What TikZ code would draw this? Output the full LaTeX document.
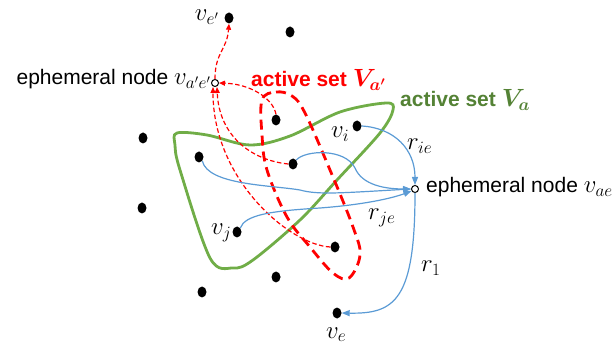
\documentclass[tikz,border=0pt]{standalone}
\usepackage{amsmath}
\usepackage{fontspec}
\setmainfont{Liberation Sans}
\usetikzlibrary{shapes.geometric,arrows.meta}
\definecolor{myred}{RGB}{255,0,0}
\definecolor{mygreen}{RGB}{112,173,71}
\definecolor{mygreentext}{RGB}{84,130,53}
\definecolor{myblue}{RGB}{91,155,213}
\newcommand{\bigmath}[1]{{\fontsize{26}{30}\selectfont$#1$}}
\begin{document}
\begin{tikzpicture}[x=1pt,y=-1pt,font=\fontsize{21}{25}\selectfont,
  dot/.style={ellipse, fill=black, minimum width=9pt, minimum height=11pt, inner sep=0pt},
  eph/.style={circle, draw=black, line width=1pt, minimum size=7pt, inner sep=0pt, fill=white},
  lbl/.style={inner sep=0pt},
  mathlbl/.style={inner sep=0pt, font=\fontsize{26}{30}\selectfont},
  bluearrow/.style={myblue, line width=1.2pt, -{Triangle[length=8pt,width=6pt]}},
  redarrow/.style={myred, line width=1.2pt, dash pattern=on 4.5pt off 2.5pt, -{Triangle[length=6pt,width=5pt]}},
  greenset/.style={mygreen, line width=2.8pt},
  redset/.style={myred, line width=2.8pt, dash pattern=on 10pt off 6pt}]
\useasboundingbox (0,0) rectangle (615,352);
% active set V_a (green)
\draw[greenset] plot[smooth cycle, tension=0.55] coordinates {
  (177,133) (207,135) (250,145) (290,136) (340,112) (386,103) (393,110)
  (380,133) (337,180) (300,220) (253,260) (233,268) (210,258) (180,170) (175,145)};
% active set V_a' (red dashed)
\draw[redset] plot[smooth cycle, tension=0.6] coordinates {
  (262,100) (276,92) (292,96) (305,113) (330,170) (353,227) (360,255)
  (349,278) (333,273) (310,247) (287,217) (267,170) (262,135)};
% nodes
\node[dot] (vep) at (229,18) {};
\node[dot] (d1) at (290,32) {};
\node[eph] (vaep) at (215,83) {};
\node[dot] (d2) at (276,120) {};
\node[dot] (d3) at (143,138) {};
\node[dot] (d4) at (199,157) {};
\node[dot] (d5) at (293,164) {};
\node[dot] (vi) at (357,126) {};
\node[eph] (vae) at (415,189) {};
\node[dot] (d6) at (142,208) {};
\node[dot] (vj) at (237,232) {};
\node[dot] (d7) at (335,247) {};
\node[dot] (d8) at (276,277) {};
\node[dot] (d9) at (202,292) {};
\node[dot] (ve) at (337,313) {};
% labels
\node[inner sep=0pt, font=\fontsize{24}{26}\selectfont, anchor=base east] (lvep) at (219,21) {$v_{e'}$};
\node[lbl, anchor=base east] (lvaep) at (211,85) {ephemeral node \bigmath{v_{a'e'}}};
\node[lbl, anchor=base west, text=myred, font=\fontsize{21}{25}\selectfont\bfseries] (lred) at (251,87) {active set \bigmath{\boldsymbol{V_{a'}}}};
\node[lbl, anchor=base west, text=mygreentext, font=\fontsize{21}{25}\selectfont\bfseries] (lgreen) at (400,107) {active set \bigmath{\boldsymbol{V_{a}}}};
\node[mathlbl, anchor=base west] (lvi) at (331,138) {$v_i$};
\node[mathlbl, anchor=base west] (lrie) at (407,150) {$r_{ie}$};
\node[lbl, anchor=base west] (lvae) at (426,193) {ephemeral node \bigmath{v_{ae}}};
\node[mathlbl, anchor=base west] (lrje) at (368,220) {$r_{je}$};
\node[mathlbl, anchor=base west] (lvj) at (211,235) {$v_j$};
\node[mathlbl, anchor=base west] (lr1) at (421,272) {$r_1$};
\node[mathlbl, anchor=base west] (lve) at (326,338) {$v_e$};
% red dashed arrows
\draw[redarrow] (d2.north) .. controls (273,98) and (250,84) .. (vaep.east);
\draw[redarrow] (d5.west) .. controls (250,160) and (219,135) .. ([xshift=2pt]vaep.south);
\draw[redarrow] (d7.west) .. controls (290,245) and (213,180) .. ([xshift=-2pt]vaep.south);
\draw[redarrow] (vaep.north) .. controls (215,52) and (227,50) .. (vep.south);
% blue arrows
\draw[bluearrow] (vi.east) .. controls (395,128) and (415,150) .. (vae.north);
\draw[bluearrow] (d4.south east) .. controls (208,185) and (270,185) .. (300,190) .. controls (318,195) and (340,193) .. (vae.west);
\draw[bluearrow] (d5.north east) .. controls (305,150) and (345,148) .. (355,168) .. controls (362,185) and (385,189) .. (vae.west);
\draw[bluearrow] (vj.north east) .. controls (245,215) and (270,211) .. (320,208) .. controls (360,205) and (390,199) .. (vae.210);
\draw[bluearrow] (vae.south) .. controls (415,300) and (395,314) .. (ve.east);
\end{tikzpicture}
\end{document}
